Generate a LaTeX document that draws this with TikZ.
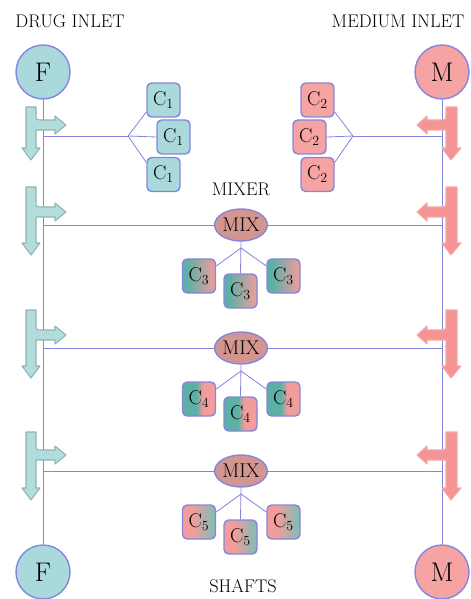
\documentclass[tikz,border=0pt]{standalone}
\usetikzlibrary{shapes.geometric}

\definecolor{wirecol}{HTML}{8585DE}
\definecolor{drug}{HTML}{AAD9DC}
\definecolor{medium}{HTML}{F5A3A3}
\definecolor{mixrose}{HTML}{D3968F}
\definecolor{tealmix}{HTML}{5CB0A6}
\definecolor{pinkmix}{HTML}{F29C9C}
\definecolor{tealpale}{HTML}{7CBFB6}
\definecolor{arrowteal}{HTML}{B3DDDD}
\definecolor{arrowtealedge}{HTML}{8DB4B4}
\definecolor{arrowpink}{HTML}{F49494}
\definecolor{arrowpinkedge}{HTML}{F5A8A8}

% horizontal blends for the mixed cultures
\pgfdeclarehorizontalshading{cthree}{100bp}{color(0bp)=(tealmix); color(32bp)=(tealmix); color(75bp)=(pinkmix); color(100bp)=(pinkmix)}
\pgfdeclarehorizontalshading{cfour}{100bp}{color(0bp)=(tealmix); color(46bp)=(tealmix); color(56bp)=(pinkmix); color(100bp)=(pinkmix)}
\pgfdeclarehorizontalshading{cfive}{100bp}{color(0bp)=(pinkmix); color(40bp)=(pinkmix); color(75bp)=(tealpale); color(100bp)=(tealpale)}

\tikzset{
  wire/.style={draw=wirecol, line width=0.7pt},
  heading/.style={inner sep=0pt, font=\fontsize{15.6}{18}\selectfont},
  tank/.style={circle, draw=wirecol, line width=1.2pt, minimum size=1.62cm, inner sep=0pt, font=\fontsize{23}{23}\selectfont},
  cbox/.style={draw=wirecol, line width=1.2pt, rounded corners=4pt, minimum width=0.99cm, minimum height=1.02cm, inner sep=0pt, font=\fontsize{17}{17}\selectfont},
  mixer/.style={ellipse, draw=wirecol, line width=1.2pt, fill=mixrose, minimum width=1.56cm, minimum height=0.96cm, inner sep=0pt, font=\fontsize{17}{17}\selectfont},
  drugarrow/.style={fill=arrowteal, draw=arrowtealedge, line width=0.9pt, line join=round},
  mediumarrow/.style={fill=arrowpink, draw=arrowpinkedge, line width=0.9pt, line join=round}
}

\begin{document}
\begin{tikzpicture}[x=0.03cm, y=-0.03cm]
  \useasboundingbox (0,0) rectangle (470,599);

  % titles
  \node [heading] (druglbl) at (70,21) {DRUG INLET};
  \node [heading] (mediumlbl) at (398,21) {MEDIUM INLET};
  \node [heading] (mixerlbl) at (241,189) {MIXER};
  \node [heading] (shaftlbl) at (243,586) {SHAFTS};

  % inlet tanks
  \node [tank, fill=drug] (ftop) at (43,72) {F};
  \node [tank, fill=medium] (mtop) at (442,72) {M};
  \node [tank, fill=drug] (fbot) at (43,572) {F};
  \node [tank, fill=medium] (mbot) at (442,572) {M};

  % shafts
  \draw [wire] (ftop) -- (fbot);
  \draw [wire] (mtop) -- (mbot);

  % first stage: pure cultures
  \node [cbox, fill=drug] (c1a) at (163.5,100) {C\textsubscript{1}};
  \node [cbox, fill=drug] (c1b) at (173.5,137) {C\textsubscript{1}};
  \node [cbox, fill=drug] (c1c) at (163.5,174.5) {C\textsubscript{1}};
  \node [cbox, fill=medium] (c2a) at (317.5,100) {C\textsubscript{2}};
  \node [cbox, fill=medium] (c2b) at (309.5,137) {C\textsubscript{2}};
  \node [cbox, fill=medium] (c2c) at (317.5,174.5) {C\textsubscript{2}};

  \coordinate (dl1) at (43,136);
  \coordinate (ds1) at (128,136);
  \coordinate (ml1) at (442,136);
  \coordinate (ms1) at (353,136);
  \draw [wire] (dl1) -- (ds1);
  \draw [wire] (ds1) -- (c1a.215);
  \draw [wire] (ds1) -- (c1b.west);
  \draw [wire] (ds1) -- (c1c.145);
  \draw [wire] (ml1) -- (ms1);
  \draw [wire] (ms1) -- (c2a.-35);
  \draw [wire] (ms1) -- (c2b.east);
  \draw [wire] (ms1) -- (c2c.35);

  % mixing stages
  \foreach \y/\n/\sh in {225/3/cthree, 348/4/cfour, 471/5/cfive}{
    \node [mixer] (mix\n) at (241,\y) {MIX};
    \node [cbox, shade, shading=\sh] (c\n a) at (199,\y+51) {C\textsubscript{\n}};
    \node [cbox, shade, shading=\sh] (c\n b) at (240.5,\y+66) {C\textsubscript{\n}};
    \node [cbox, shade, shading=\sh] (c\n c) at (283.5,\y+51) {C\textsubscript{\n}};
    \coordinate (dl\n) at (43,\y);
    \coordinate (ml\n) at (442,\y);
    \coordinate (hub\n) at (241,\y+23);
    \draw [wire] (dl\n) -- (mix\n.west);
    \draw [wire] (mix\n.east) -- (ml\n);
    \draw [wire] (mix\n.south) -- (c\n b.north);
    \draw [wire] (hub\n) -- (c\n a.30);
    \draw [wire] (hub\n) -- (c\n c.150);
  }

  % split arrows on the shafts
  \foreach \t/\a/\b in {107/125/160, 187/212/255, 310/335/378, 432/455/500}{
    \draw [drugarrow] (26,\t) -- (36,\t) -- (36,\a-11) .. controls (36,\a-5) .. (42,\a-5)
      -- (55,\a-5) -- (55,\a-9) -- (66,\a) -- (55,\a+9) -- (55,\a+5) -- (36,\a+5)
      -- (36,\b-12) -- (40,\b-12) -- (31,\b) -- (22,\b-12) -- (26,\b-12) -- cycle;
    \begin{scope}[shift={(482,0)}, xscale=-1]
      \draw [mediumarrow] (25,\t) -- (36,\t) -- (36,\a-11) .. controls (36,\a-5) .. (42,\a-5)
        -- (55,\a-5) -- (55,\a-9) -- (65,\a) -- (55,\a+9) -- (55,\a+5) -- (36,\a+5)
        -- (36,\b-12) -- (40,\b-12) -- (31,\b) -- (21,\b-12) -- (25,\b-12) -- cycle;
    \end{scope}
  }
\end{tikzpicture}
\end{document}
